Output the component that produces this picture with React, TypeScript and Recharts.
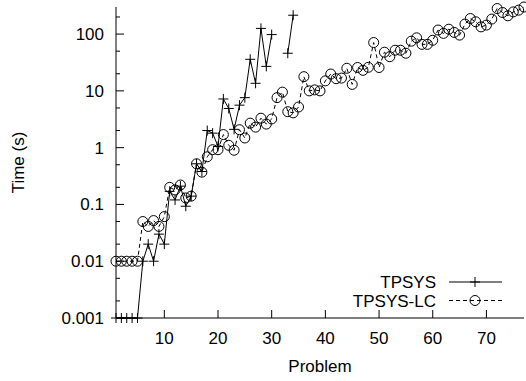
import React from "react"
import { LineChart, Line, XAxis, YAxis } from "recharts"

const problems = [
  1, 2, 3, 4, 5, 6, 7, 8, 9, 10, 11, 12, 13, 14, 15, 16, 17, 18, 19, 20,
  21, 22, 23, 24, 25, 26, 27, 28, 29, 30, 31, 32, 33, 34, 35, 36, 37, 38, 39, 40,
  41, 42, 43, 44, 45, 46, 47, 48, 49, 50, 51, 52, 53, 54, 55, 56, 57, 58, 59, 60,
  61, 62, 63, 64, 65, 66, 67, 68, 69, 70, 71, 72, 73, 74, 75, 76, 77,
]

// null = no result (timeout)
const tpsys: (number | null)[] = [
  0.001, 0.001, 0.001, 0.001, 0.001, 0.01, 0.02, 0.01, 0.03, 0.02,
  0.17, 0.12, 0.21, 0.093, 0.14, 0.52, 0.38, 2.0, 1.8, 1.05,
  7.2, 4.9, 2.1, 5.6, 7.6, 36, 13.6, 126, 27, 98,
  null, null, 46, 215, null, null, null, null, null, null,
  null, null, null, null, null, null, null, null, null, null,
  null, null, null, null, null, null, null, null, null, null,
  null, null, null, null, null, null, null, null, null, null,
  null, null, null, null, null, null, null,
]

const tpsysLc = [
  0.01, 0.01, 0.01, 0.01, 0.01, 0.05, 0.041, 0.052, 0.041, 0.061,
  0.2, 0.18, 0.22, 0.13, 0.14, 0.52, 0.37, 0.69, 0.92, 0.92,
  1.7, 1.1, 0.9, 2.07, 1.48, 2.7, 2.3, 3.3, 2.6, 3.2,
  7.6, 9.5, 4.3, 4.1, 5.2, 17.8, 10, 10.4, 10, 15,
  19.8, 16.4, 16.8, 25, 13, 25.8, 23, 26, 71, 25.8,
  48, 40, 52, 52, 46, 75, 86, 66, 66, 78,
  118, 103, 122, 107, 96, 150, 188, 165, 134, 144,
  184, 282, 240, 210, 246, 264, 300,
]

const xTicks = [10, 20, 30, 40, 50, 60, 70]
const yMajor = [0.001, 0.01, 0.1, 1, 10, 100]
const yMinor = [0.002, 0.005, 0.02, 0.05, 0.2, 0.5, 2, 5, 20, 50, 200]
const yTicks = [...yMajor, ...yMinor].sort((a, b) => a - b)

const data = problems.map((p, i) => ({ problem: p, tpsys: tpsys[i], lc: tpsysLc[i] }))

const FONT = 17
const INK = "#000"

function BottomTick({ x, y, payload }: any) {
  return (
    <g>
      <line x1={x} x2={x} y1={y} y2={y - 8} stroke={INK} />
      <text x={x} y={y + 26} textAnchor="middle" fontSize={FONT} fill={INK}>
        {payload.value}
      </text>
    </g>
  )
}

function TopTick({ x, y }: any) {
  return <line x1={x} x2={x} y1={y} y2={y + 8} stroke={INK} />
}

function LeftTick({ x, y, payload }: any) {
  const major = yMajor.includes(payload.value)
  return (
    <g>
      <line x1={x} x2={x + (major ? 8 : 4)} y1={y} y2={y} stroke={INK} />
      {major && (
        <text x={x - 12} y={y + 6} textAnchor="end" fontSize={FONT} fill={INK}>
          {String(payload.value)}
        </text>
      )}
    </g>
  )
}

function RightTick({ x, y, payload }: any) {
  const major = yMajor.includes(payload.value)
  return <line x1={x} x2={x - (major ? 8 : 4)} y1={y} y2={y} stroke={INK} />
}

function PlusDot(props: any) {
  const { cx, cy, index } = props
  if (cx == null || cy == null) return <g key={`p-${index}`} />
  return (
    <g key={`p-${index}`}>
      <line x1={cx - 5} x2={cx + 5} y1={cy} y2={cy} stroke={INK} />
      <line x1={cx} x2={cx} y1={cy - 5} y2={cy + 5} stroke={INK} />
    </g>
  )
}

function CircleDot(props: any) {
  const { cx, cy, index } = props
  if (cx == null || cy == null) return <g key={`c-${index}`} />
  return <circle key={`c-${index}`} cx={cx} cy={cy} r={5} fill="none" stroke={INK} />
}

export default function App() {
  return (
    <div
      style={{
        position: "absolute",
        left: 0,
        top: 0,
        width: 526,
        height: 381,
        background: "#fff",
        fontFamily: "'Liberation Sans', Arial, sans-serif",
      }}
    >
      <LineChart width={526} height={381} data={data} margin={{ top: 7, right: 2, bottom: 0, left: 0 }}>
        <XAxis
          xAxisId="bottom"
          dataKey="problem"
          type="number"
          domain={[1, 77]}
          ticks={xTicks}
          interval={0}
          height={63}
          tickSize={0}
          tickMargin={0}
          tickLine={false}
          axisLine={{ stroke: INK }}
          tick={<BottomTick />}
          label={{ value: "Problem", position: "insideBottom", offset: 9, fontSize: FONT, fill: INK }}
        />
        <XAxis
          xAxisId="top"
          orientation="top"
          dataKey="problem"
          type="number"
          domain={[1, 77]}
          ticks={xTicks}
          interval={0}
          height={0}
          tickSize={0}
          tickMargin={0}
          tickLine={false}
          axisLine={{ stroke: INK }}
          tick={<TopTick />}
        />
        <YAxis
          yAxisId="left"
          scale="log"
          type="number"
          domain={[0.001, 300]}
          ticks={yTicks}
          interval={0}
          width={116}
          tickSize={0}
          tickMargin={0}
          tickLine={false}
          axisLine={{ stroke: INK }}
          tick={<LeftTick />}
          label={{
            value: "Time (s)",
            angle: -90,
            position: "insideLeft",
            offset: 18,
            fontSize: FONT,
            fill: INK,
            style: { textAnchor: "middle" },
          }}
        />
        <YAxis
          yAxisId="right"
          orientation="right"
          scale="log"
          type="number"
          domain={[0.001, 300]}
          ticks={yTicks}
          interval={0}
          width={0}
          tickSize={0}
          tickMargin={0}
          tickLine={false}
          axisLine={{ stroke: INK }}
          tick={<RightTick />}
        />
        <Line
          xAxisId="bottom"
          yAxisId="left"
          dataKey="tpsys"
          stroke={INK}
          strokeWidth={1}
          dot={PlusDot}
          activeDot={false}
          isAnimationActive={false}
        />
        <Line
          xAxisId="bottom"
          yAxisId="left"
          dataKey="lc"
          stroke={INK}
          strokeWidth={1}
          strokeDasharray="4 3"
          dot={CircleDot}
          activeDot={false}
          isAnimationActive={false}
        />
      </LineChart>
      <svg
        width={526}
        height={381}
        style={{ position: "absolute", left: 0, top: 0, pointerEvents: "none" }}
      >
        <text x={436} y={288} textAnchor="end" fontSize={FONT} fill={INK}>
          TPSYS
        </text>
        <line x1={449} x2={502} y1={282} y2={282} stroke={INK} />
        <line x1={470} x2={480} y1={282} y2={282} stroke={INK} />
        <line x1={475} x2={475} y1={277} y2={287} stroke={INK} />
        <text x={436} y={306.5} textAnchor="end" fontSize={FONT} fill={INK}>
          TPSYS-LC
        </text>
        <line x1={449} x2={502} y1={300.5} y2={300.5} stroke={INK} strokeDasharray="4 3" />
        <circle cx={475} cy={300.5} r={5} fill="none" stroke={INK} />
      </svg>
    </div>
  )
}
